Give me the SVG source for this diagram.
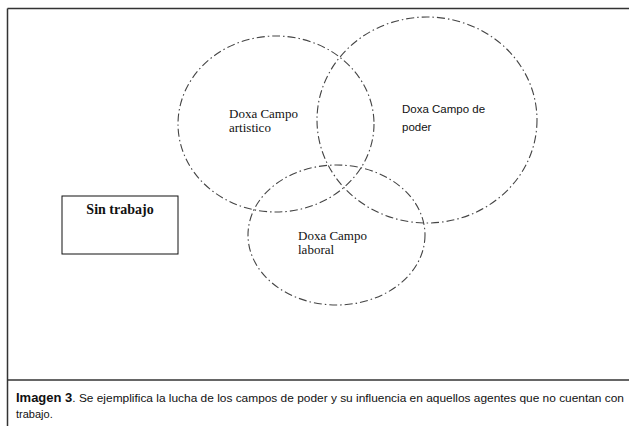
<svg xmlns="http://www.w3.org/2000/svg" width="629" height="426" viewBox="0 0 629 426">
<style>
.frame{stroke:#333;stroke-width:1.5;fill:none}
.field{fill:none;stroke:#444;stroke-width:1.1;stroke-dasharray:8 3 1.5 3}
.serif{font-family:"Liberation Serif","Times New Roman",serif;font-size:13px;fill:#111}
.sans{font-family:"Liberation Sans",Arial,sans-serif;font-size:11.5px;fill:#111}
.cap{font-family:"Liberation Sans",Arial,sans-serif;font-size:11px;fill:#111}
</style>
<rect width="629" height="426" fill="#fff"/>
<g id="frame">
<line class="frame" x1="7.5" y1="8.5" x2="629" y2="8.5"/>
<line class="frame" x1="7.5" y1="8.5" x2="7.5" y2="426"/>
<line class="frame" x1="7.5" y1="380" x2="629" y2="380"/>
</g>
<g id="campo-artistico">
<ellipse class="field" cx="276" cy="124" rx="98" ry="88"/>
<text class="serif"><tspan x="229" y="118">Doxa Campo</tspan><tspan x="229" y="132">artistico</tspan></text>
</g>
<g id="campo-poder">
<ellipse class="field" cx="427" cy="120" rx="110" ry="103"/>
<text class="sans"><tspan x="402" y="113">Doxa Campo de</tspan><tspan x="402" y="131">poder</tspan></text>
</g>
<g id="campo-laboral">
<ellipse class="field" cx="336.5" cy="235" rx="88.5" ry="70"/>
<text class="serif"><tspan x="298" y="240">Doxa Campo</tspan><tspan x="298" y="254">laboral</tspan></text>
</g>
<g id="sin-trabajo">
<rect x="62" y="196" width="116" height="58" fill="none" stroke="#111" stroke-width="1"/>
<text x="120" y="214" text-anchor="middle" font-family="Liberation Serif,'Times New Roman',serif" font-size="14" font-weight="bold" fill="#111">Sin trabajo</text>
</g>
<g id="caption">
<text class="cap" x="16" y="402" textLength="608" lengthAdjust="spacingAndGlyphs"><tspan font-weight="bold" font-size="12">Imagen 3</tspan>. Se ejemplifica la lucha de los campos de poder y su influencia en aquellos agentes que no cuentan con</text>
<text class="cap" x="16" y="418">trabajo.</text>
</g>
<g id="connectors"/>
</svg>
